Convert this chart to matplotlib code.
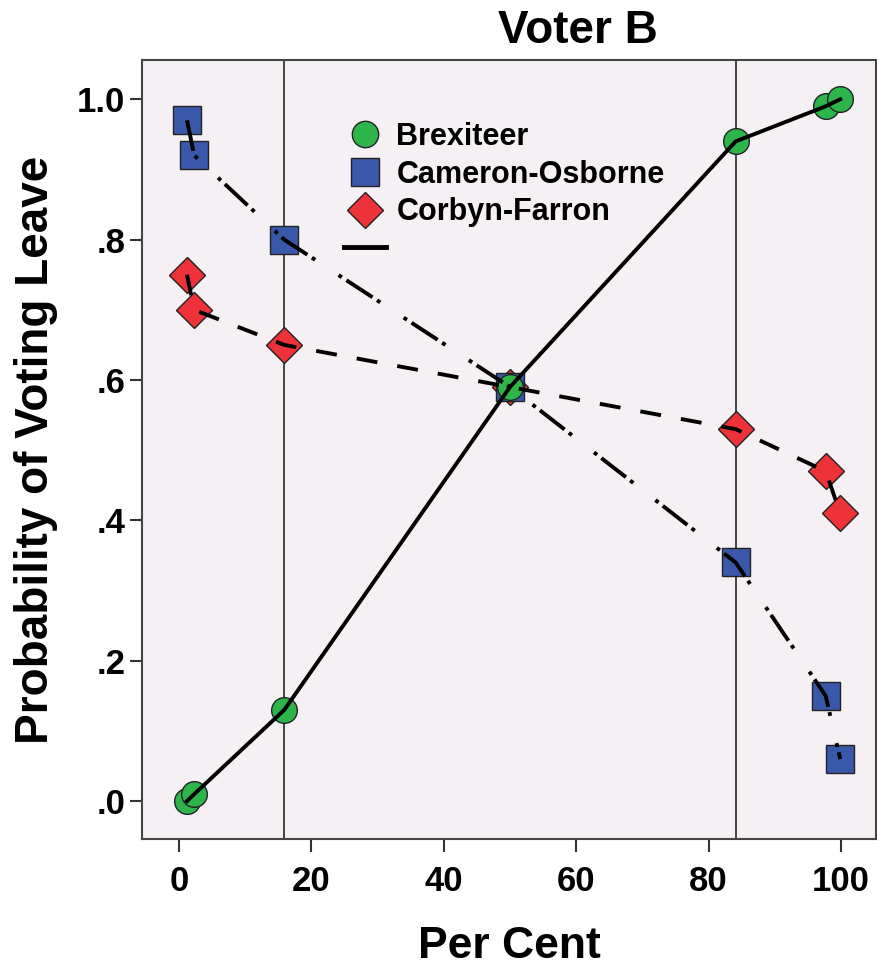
import matplotlib
matplotlib.use("Agg")
import matplotlib.pyplot as plt
from matplotlib.lines import Line2D

plt.rcParams['font.family'] = ['Liberation Sans', 'DejaVu Sans']
plt.rcParams['font.weight'] = 'bold'

# Data
per_cent = [1.2, 2.3, 15.9, 50, 84.1, 97.7, 99.9]
brexiteer = [0.00, 0.01, 0.13, 0.59, 0.94, 0.99, 1.00]
cameron_osborne = [0.97, 0.92, 0.80, 0.59, 0.34, 0.15, 0.06]
corbyn_farron = [0.75, 0.70, 0.65, 0.59, 0.53, 0.47, 0.41]
ref_lines = [15.87, 84.13]
xticks = [0, 20, 40, 60, 80, 100]
yticks = [0.0, 0.2, 0.4, 0.6, 0.8, 1.0]
ytick_labels = ['.0', '.2', '.4', '.6', '.8', '1.0']
series_names = ['Brexiteer', 'Cameron-Osborne', 'Corbyn-Farron']

green = '#2DB54B'
blue = '#3A58A9'
red = '#EE3239'
bg = '#F4F0F4'
edge = '#222222'

fig = plt.figure(figsize=(8.78, 9.72), dpi=100)
ax = fig.add_axes([0.1617, 0.1368, 0.836, 0.8015])
ax.set_facecolor(bg)

for x in ref_lines:
    ax.axvline(x, color='#444444', lw=1.4, zorder=1)

# markers (below lines)
ax.plot(per_cent, corbyn_farron, ls='none', marker='D', ms=18, mfc=red, mec=edge, mew=1.0, zorder=2)
ax.plot(per_cent, cameron_osborne, ls='none', marker='s', ms=20, mfc=blue, mec=edge, mew=1.0, zorder=2)
ax.plot(per_cent, brexiteer, ls='none', marker='o', ms=18.5, mfc=green, mec=edge, mew=1.0, zorder=2)

# lines on top
lw = 2.8
ax.plot(per_cent, brexiteer, color='black', lw=lw, ls='-', zorder=3)
ax.plot(per_cent, cameron_osborne, color='black', lw=lw,
        ls=(0, (8.0, 1.4, 1.0, 7.2, 1.0, 1.4)), dash_capstyle='butt', zorder=3)
ax.plot(per_cent, corbyn_farron, color='black', lw=lw, ls=(0, (5.4, 5.2)),
        dash_capstyle='butt', zorder=3)

ax.set_xlim(-5.6, 105.3)
ax.set_ylim(-0.054, 1.056)
ax.set_xticks(xticks)
ax.set_xticklabels([str(v) for v in xticks])
ax.set_yticks(yticks)
ax.set_yticklabels(ytick_labels)
ax.tick_params(axis='both', direction='out', length=9, width=1.5, color='#333333',
               labelsize=25, pad=3)
ax.tick_params(axis='x', pad=10)
for lab in ax.get_xticklabels() + ax.get_yticklabels():
    lab.set_fontweight('bold')
for s in ax.spines.values():
    s.set_color('#444444')
    s.set_linewidth(1.5)

fig.text(578 / 878, 1 - 43 / 972, 'Voter B', fontsize=33, fontweight='bold',
         ha='center', va='baseline')
ax.set_xlabel('Per Cent', fontsize=32, fontweight='bold', labelpad=20)
ax.set_ylabel('Probability of Voting Leave', fontsize=33, fontweight='bold', labelpad=14)

handles = [
    Line2D([], [], ls='none', marker='o', ms=19, mfc=green, mec=edge, mew=1.0),
    Line2D([], [], ls='none', marker='s', ms=19.5, mfc=blue, mec=edge, mew=1.0),
    Line2D([], [], ls='none', marker='D', ms=18.5, mfc=red, mec=edge, mew=1.0),
    Line2D([], [], color='black', lw=3.5),
]
labels = series_names + ['']
leg = ax.legend(handles, labels, loc='upper left', bbox_to_anchor=(0.255, 0.94),
                frameon=False, fontsize=22, handlelength=1.37, handletextpad=0.33,
                labelspacing=0.25, borderpad=0)
for t in leg.get_texts():
    t.set_fontweight('bold')

fig.savefig('out.png', dpi=100, facecolor='white')
